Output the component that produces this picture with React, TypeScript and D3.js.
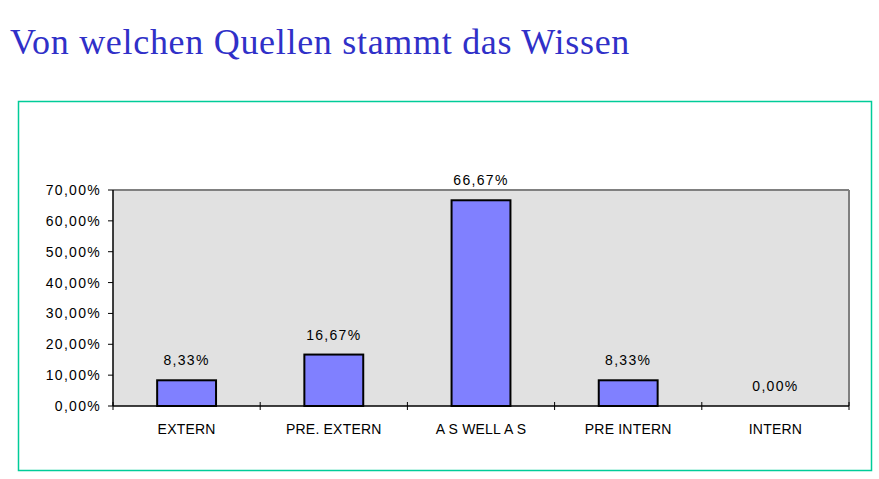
import React from "react";
import * as d3 from "d3";

const categories = ["EXTERN", "PRE. EXTERN", "A S WELL A S", "PRE INTERN", "INTERN"];
const values = [8.33, 16.67, 66.67, 8.33, 0.0];
const yTicks = [0, 10, 20, 30, 40, 50, 60, 70];
const title = "Von welchen Quellen stammt das Wissen";

const fmt = (v: number) => v.toFixed(2).replace(".", ",") + "%";

export default function App() {
  const W = 879, H = 479;
  const left = 113, right = 849, top = 190, bottom = 406;
  const x = d3.scaleBand<string>().domain(categories).range([left, right]).paddingInner(0).paddingOuter(0);
  const y = d3.scaleLinear().domain([0, 70]).range([bottom, top]);
  const bw = x.bandwidth() * 0.4;
  const font = "Arial, 'Liberation Sans', sans-serif";
  const edges = categories.map((c) => x(c)!).concat([right]);
  return (
    <svg width={W} height={H} style={{ position: "absolute", left: 0, top: 0, background: "#fff" }}>
      <text x={10} y={54} fontFamily="'Liberation Serif', 'Times New Roman', serif" fontSize={36} fill="#3030c8" letterSpacing={0.7}>
        {title}
      </text>
      <rect x={18.5} y={101.5} width={853} height={369} fill="#fff" stroke="#00cc99" strokeWidth={1.5} />
      <rect x={left} y={top} width={right - left} height={bottom - top} fill="#e1e1e1" />
      <line x1={left} y1={top} x2={right} y2={top} stroke="#808080" strokeWidth={2} />
      <line x1={right} y1={top} x2={right} y2={bottom} stroke="#808080" strokeWidth={2} />
      {values.map((v, i) => {
        const cx = x(categories[i])! + x.bandwidth() / 2;
        return (
          <g key={i}>
            {v > 0 && (
              <rect x={cx - bw / 2} y={y(v)} width={bw} height={bottom - y(v)} fill="#8080ff" stroke="#000" strokeWidth={2} />
            )}
            <text x={cx} y={y(v) - 15} textAnchor="middle" fontFamily={font} fontSize={14} fill="#000" letterSpacing={1.3}>
              {fmt(v)}
            </text>
            <text x={cx} y={434} textAnchor="middle" fontFamily={font} fontSize={14} fill="#000" letterSpacing={0.2}>
              {categories[i]}
            </text>
          </g>
        );
      })}
      <line x1={left} y1={top} x2={left} y2={bottom} stroke="#000" strokeWidth={1.5} />
      <line x1={left} y1={bottom} x2={right} y2={bottom} stroke="#000" strokeWidth={1.5} />
      {yTicks.map((t) => (
        <g key={t}>
          <line x1={left - 5} y1={y(t)} x2={left} y2={y(t)} stroke="#000" />
          <text x={left - 12} y={y(t) + 5} textAnchor="end" fontFamily={font} fontSize={14} fill="#000" letterSpacing={1.3}>
            {fmt(t)}
          </text>
        </g>
      ))}
      {edges.map((e, i) => (
        <line key={i} x1={e} y1={bottom - 4} x2={e} y2={bottom + 4} stroke="#000" />
      ))}
    </svg>
  );
}
